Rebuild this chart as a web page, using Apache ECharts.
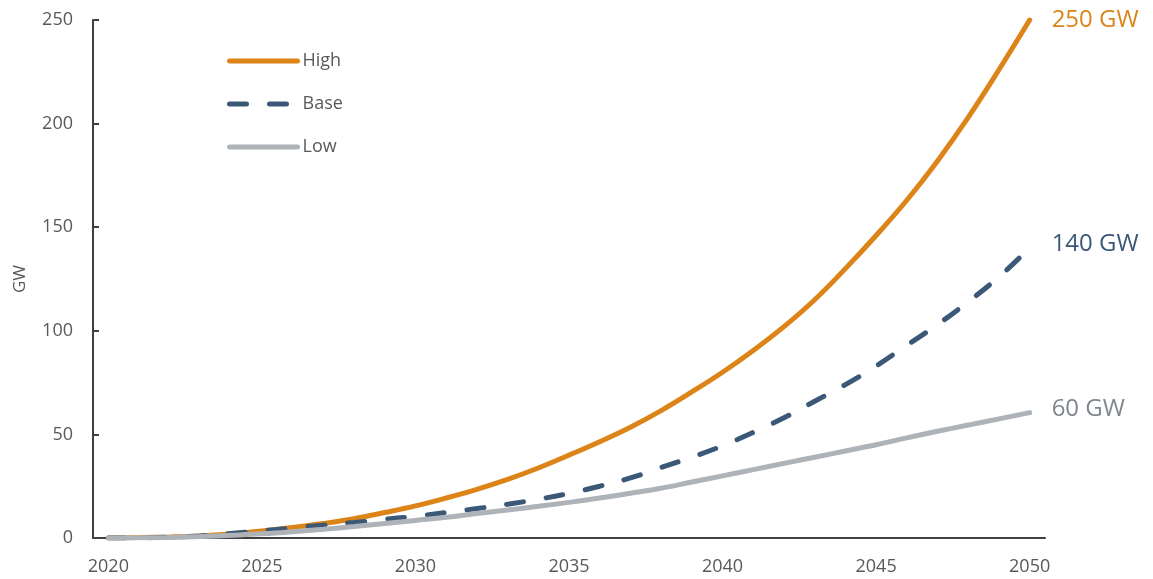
<!DOCTYPE html>
<html>
<head>
<meta charset="utf-8">
<script src="https://cdn.jsdelivr.net/npm/echarts@6/dist/echarts.min.js"></script>
<style>
html,body{margin:0;padding:0;background:#fff;}
#chart{width:1153px;height:579px;}
</style>
</head>
<body>
<div id="chart"></div>
<script>
const years = ['2020','2021','2022','2023','2024','2025','2026','2027','2028','2029','2030','2031','2032','2033','2034','2035','2036','2037','2038','2039','2040','2041','2042','2043','2044','2045','2046','2047','2048','2049','2050'];
const highValues = [0,0.2,0.5,1,2,3.4,5.1,7,9.3,12.3,15.5,19.3,23.5,28.3,33.8,40,46.5,53.5,61.5,70.5,80,90.5,102,115,130,146,163,182,203,226,250];
const baseValues = [0,0.1,0.4,1,2.2,3.5,4.8,6.2,7.5,9,10.5,12.3,14.2,16.3,18.7,21.5,25,29,34,39,44.5,51,58,66,74,83,93,103,114,126,140];
const lowValues = [0,0.1,0.3,0.7,1.3,2,3,4.2,5.5,7,8.5,10,11.8,13.5,15.3,17.2,19.3,21.6,24,27,30,33,36,39,42,45,48.3,51.5,54.5,57.5,60.5];
const seriesNames = ['High','Base','Low'];
const endLabels = ['250 GW','140 GW','60 GW'];
const yTicks = [0,50,100,150,200,250];

const font = 'Open Sans';
const colors = ['#DD8418','#3B5877','#ADB3B8'];
const labelColors = ['#DD8418','#3B5877','#7F868D'];
const labelOffsets = [[0,0],[0,-4],[0,-3]];
const dataSets = [highValues, baseValues, lowValues];

const chart = echarts.init(document.getElementById('chart'));
chart.setOption({
  animation: false,
  grid: {left: 93, right: 108, top: 20, bottom: 41, containLabel: false},
  legend: {
    orient: 'vertical', left: 222, top: 47,
    itemWidth: 68, itemHeight: 14, itemGap: 25,
    textStyle: {fontFamily: font, fontSize: 18, color: '#595959'},
    lineStyle: {width: 5, cap: 'round'},
    itemStyle: {opacity: 0},
    data: seriesNames
  },
  xAxis: {
    type: 'category', data: years, boundaryGap: true,
    axisLine: {lineStyle: {color: '#404040', width: 2}},
    axisTick: {show: false},
    axisLabel: {interval: 4, fontFamily: font, fontSize: 18, color: '#595959', margin: 20},
    splitLine: {show: false}
  },
  yAxis: {
    type: 'value', min: yTicks[0], max: yTicks[yTicks.length-1], interval: 50,
    name: 'GW', nameLocation: 'middle', nameGap: 64, nameRotate: 90,
    nameTextStyle: {fontFamily: font, fontSize: 17, color: '#595959'},
    axisLine: {show: true, lineStyle: {color: '#404040', width: 2}},
    axisTick: {show: true, inside: true, length: 6, lineStyle: {color: '#404040', width: 2}},
    axisLabel: {fontFamily: font, fontSize: 18, color: '#595959', margin: 20},
    splitLine: {show: false}
  },
  series: seriesNames.map((n, i) => ({
    name: n, type: 'line', data: dataSets[i], smooth: 0.4, symbol: 'none',
    color: colors[i],
    lineStyle: {width: 5, color: colors[i], cap: 'round', type: i === 1 ? [17, 23] : 'solid'},
    endLabel: {
      show: true, formatter: endLabels[i], color: labelColors[i],
      fontFamily: font, fontSize: 24, distance: 22, offset: labelOffsets[i]
    },
    z: 2 + i
  }))
});
</script>
</body>
</html>
